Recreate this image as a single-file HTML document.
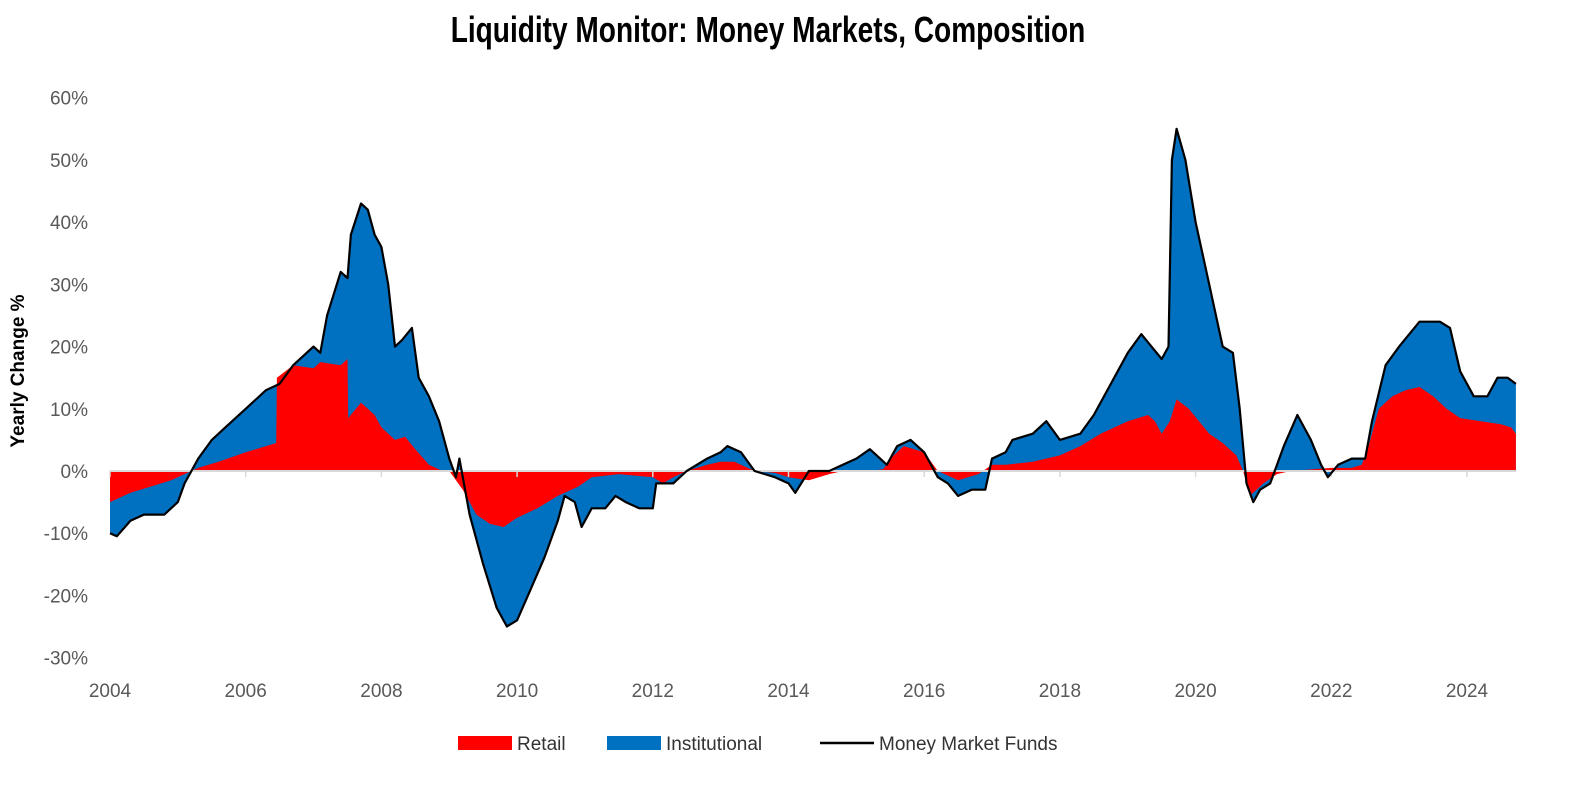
<!DOCTYPE html>
<html><head><meta charset="utf-8"><style>
body{margin:0;background:#fff;width:1587px;height:784px;overflow:hidden;font-family:"Liberation Sans",sans-serif}
</style></head><body>
<svg width="1587" height="784">
<text x="768" y="42" text-anchor="middle" font-family="Liberation Sans Narrow, Liberation Sans, sans-serif" font-weight="bold" font-size="36" transform="translate(768,0) scale(0.78,1) translate(-768,0)">Liquidity Monitor: Money Markets, Composition</text>
<text transform="translate(24,371) rotate(-90)" text-anchor="middle" font-size="19" font-weight="bold">Yearly Change %</text>
<g id="ylab"></g><g id="xlab"></g>
<path id="blue" fill="#0070C0"/>
<path id="red" fill="#FF0000"/>
<line id="zero" stroke="#d9d9d9" stroke-width="2"/>
<g id="ticks"></g>
<path id="line" fill="none" stroke="#000" stroke-width="2.2" stroke-linejoin="round"/>
<g>
<rect x="458" y="736" width="54" height="14" fill="#FF0000"/>
<text x="517" y="750" font-size="19" fill="#333">Retail</text>
<rect x="607" y="736" width="54" height="14" fill="#0070C0"/>
<text x="666" y="750" font-size="19" fill="#333">Institutional</text>
<line x1="820" y1="743" x2="874" y2="743" stroke="#000" stroke-width="2.5"/>
<text x="879" y="750" font-size="19" fill="#333">Money Market Funds</text>
</g>
</svg>
<script>
const totalDates=[2004.0,2004.1,2004.3,2004.5,2004.8,2005.0,2005.1,2005.3,2005.5,2005.7,2006.0,2006.3,2006.5,2006.7,2007.0,2007.1,2007.2,2007.4,2007.5,2007.55,2007.7,2007.8,2007.9,2008.0,2008.1,2008.2,2008.3,2008.45,2008.55,2008.7,2008.85,2009.0,2009.1,2009.15,2009.3,2009.5,2009.7,2009.85,2010.0,2010.2,2010.4,2010.6,2010.7,2010.85,2010.95,2011.1,2011.3,2011.45,2011.6,2011.8,2012.0,2012.05,2012.3,2012.5,2012.8,2013.0,2013.1,2013.3,2013.5,2013.8,2014.0,2014.1,2014.3,2014.6,2014.8,2015.0,2015.2,2015.45,2015.6,2015.8,2016.0,2016.2,2016.35,2016.5,2016.7,2016.9,2017.0,2017.2,2017.3,2017.6,2017.8,2018.0,2018.3,2018.5,2018.8,2019.0,2019.2,2019.35,2019.5,2019.6,2019.65,2019.72,2019.85,2020.0,2020.2,2020.4,2020.55,2020.65,2020.75,2020.85,2020.95,2021.1,2021.3,2021.5,2021.7,2021.85,2021.95,2022.1,2022.3,2022.5,2022.6,2022.8,2023.0,2023.3,2023.6,2023.75,2023.9,2024.1,2024.3,2024.45,2024.6,2024.72];
const totalValues=[-10,-10.5,-8,-7,-7,-5,-2,2,5,7,10,13,14,17,20,19,25,32,31,38,43,42,38,36,30,20,21,23,15,12,8,2,-1,2,-7,-15,-22,-25,-24,-19,-14,-8,-4,-5,-9,-6,-6,-4,-5,-6,-6,-2,-2,0,2,3,4,3,0,-1,-2,-3.5,0,0,1,2,3.5,1,4,5,3,-1,-2,-4,-3,-3,2,3,5,6,8,5,6,9,15,19,22,20,18,20,50,55,50,40,30,20,19,10,-2,-5,-3,-2,4,9,5,1,-1,1,2,2,8,17,20,24,24,23,16,12,12,15,15,14];
const retailDates=[2004.0,2004.3,2004.6,2004.9,2005.1,2005.3,2005.6,2006.0,2006.3,2006.45,2006.46,2006.7,2007.0,2007.1,2007.4,2007.5,2007.51,2007.7,2007.9,2008.0,2008.2,2008.35,2008.5,2008.7,2008.9,2009.0,2009.2,2009.4,2009.6,2009.8,2010.0,2010.3,2010.6,2010.9,2011.1,2011.5,2011.8,2012.0,2012.15,2012.3,2012.5,2012.8,2013.0,2013.2,2013.5,2013.8,2014.0,2014.3,2014.6,2014.8,2015.2,2015.4,2015.5,2015.7,2016.0,2016.2,2016.5,2016.8,2017.0,2017.2,2017.6,2018.0,2018.3,2018.6,2019.0,2019.3,2019.4,2019.5,2019.62,2019.72,2019.9,2020.2,2020.4,2020.6,2020.7,2020.8,2021.0,2021.2,2021.4,2022.0,2022.3,2022.45,2022.55,2022.7,2022.9,2023.1,2023.3,2023.5,2023.7,2023.9,2024.2,2024.5,2024.65,2024.72];
const retailValues=[-5,-3.5,-2.5,-1.5,-0.5,0.5,1.5,3,4,4.5,15,17,16.5,17.5,17,18,8.5,11,9,7,5,5.5,3.5,1,0,0,-3,-7,-8.5,-9,-7.5,-6,-4,-2.5,-1,-0.5,-0.8,-1,-2,-1,0,1,1.5,1.5,0,-0.3,-1,-1.5,-0.5,0,0,0.3,2,4,3,0,-1.5,-0.5,1,1,1.5,2.5,4,6,8,9,8,6,8,11.5,10,6,4.5,2.5,0,-4,-2,-0.5,0,0.5,0.5,1,4,10,12,13,13.5,12,10,8.5,8,7.5,7,6];
const yTicks=[60,50,40,30,20,10,0,-10,-20,-30];
const xTicks=[2004,2006,2008,2010,2012,2014,2016,2018,2020,2022,2024];
const X=y=>110+(y-2004)*67.85, Y=v=>471-v*6.222;
const NS='http://www.w3.org/2000/svg';
function area(d,v){let s=`M${X(d[0])},${Y(0)}`;d.forEach((t,i)=>s+=`L${X(t).toFixed(1)},${Y(v[i]).toFixed(1)}`);return s+`L${X(d[d.length-1])},${Y(0)}Z`;}
document.getElementById('blue').setAttribute('d',area(totalDates,totalValues));
document.getElementById('red').setAttribute('d',area(retailDates,retailValues));
document.getElementById('line').setAttribute('d',totalDates.map((t,i)=>(i?'L':'M')+X(t).toFixed(1)+','+Y(totalValues[i]).toFixed(1)).join(''));
const z=document.getElementById('zero');z.setAttribute('x1',X(2004));z.setAttribute('x2',X(2024.72));z.setAttribute('y1',Y(0));z.setAttribute('y2',Y(0));
yTicks.forEach(v=>{const t=document.createElementNS(NS,'text');


t.setAttribute('x',88);t.setAttribute('y',Y(v)+7);t.setAttribute('text-anchor','end');t.setAttribute('font-size','19');t.setAttribute('fill','#595959');t.textContent=v+'%';document.getElementById('ylab').appendChild(t);});
xTicks.forEach(v=>{const t=document.createElementNS(NS,'text');


t.setAttribute('x',X(v));t.setAttribute('y',697);t.setAttribute('text-anchor','middle');t.setAttribute('font-size','19');t.setAttribute('fill','#595959');t.textContent=v;document.getElementById('xlab').appendChild(t);
const l=document.createElementNS(NS,'line');


l.setAttribute('x1',X(v));l.setAttribute('x2',X(v));l.setAttribute('y1',Y(0));l.setAttribute('y2',Y(0)+6);l.setAttribute('stroke','#d9d9d9');l.setAttribute('stroke-width','1.5');document.getElementById('ticks').appendChild(l);});
</script>
</body></html>
